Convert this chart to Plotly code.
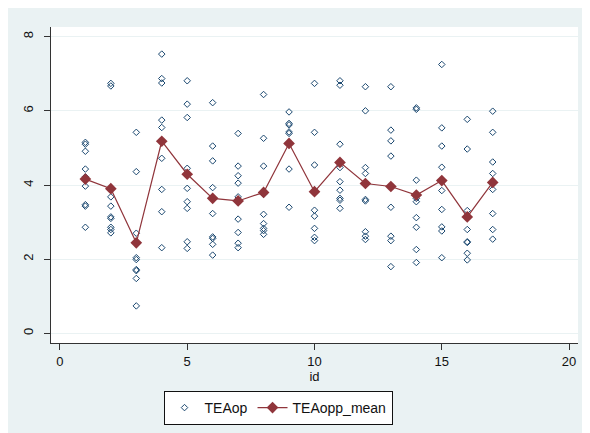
import plotly.graph_objects as go

# ---- data ----
ids = list(range(1, 18))
tea_op = {
    1: [5.15, 5.10, 4.91, 4.43, 4.22, 3.97, 3.47, 3.43, 2.86],
    2: [6.74, 6.67, 3.68, 3.43, 3.14, 3.10, 2.86, 2.80, 2.71],
    3: [5.42, 4.36, 2.70, 2.04, 1.99, 1.72, 1.69, 1.48, 0.74],
    4: [7.53, 6.87, 6.75, 5.75, 5.55, 4.72, 3.88, 3.28, 2.31],
    5: [6.81, 6.18, 5.82, 4.45, 3.91, 3.55, 3.37, 2.47, 2.29],
    6: [6.22, 5.05, 4.65, 3.93, 3.23, 2.60, 2.56, 2.40, 2.11],
    7: [5.39, 4.51, 4.25, 4.05, 3.68, 3.08, 2.72, 2.43, 2.31],
    8: [6.44, 5.26, 4.51, 3.75, 3.21, 2.96, 2.83, 2.77, 2.67],
    9: [5.97, 5.66, 5.62, 5.43, 5.39, 4.43, 3.40],
    10: [6.74, 5.42, 4.54, 3.32, 3.16, 2.83, 2.59, 2.50],
    11: [6.81, 6.69, 5.10, 4.47, 4.09, 3.86, 3.64, 3.59, 3.37],
    12: [6.65, 6.00, 4.47, 4.31, 3.61, 3.57, 2.74, 2.62, 2.53],
    13: [6.65, 5.48, 5.19, 4.78, 3.40, 2.62, 2.50, 1.80],
    14: [6.08, 6.04, 4.13, 3.64, 3.55, 3.12, 2.86, 2.26, 1.91],
    15: [7.25, 5.54, 5.05, 4.48, 3.85, 3.34, 2.87, 2.76, 2.04],
    16: [5.77, 4.97, 3.31, 2.80, 2.47, 2.45, 2.16, 1.98],
    17: [5.99, 5.42, 4.62, 4.31, 3.88, 3.23, 2.80, 2.54],
}
teaopp_mean = [4.16, 3.90, 2.44, 5.18, 4.29, 3.64, 3.57, 3.80, 5.12,
               3.82, 4.61, 4.04, 3.96, 3.73, 4.12, 3.14, 4.07]
x_ticks = [0, 5, 10, 15, 20]
y_ticks = [0, 2, 4, 6, 8]

sx, sy = [], []
for k in ids:
    for v in tea_op[k]:
        sx.append(k)
        sy.append(v)

NAVY = "#1A476F"
MAROON = "#90353B"
BG = "#EAF2F3"
FONT = "Liberation Sans, Arial, sans-serif"

fig = go.Figure()
fig.add_trace(go.Scatter(
    x=sx, y=sy, mode="markers", name="TEAop",
    marker=dict(symbol="diamond-open", size=5, color=NAVY,
                line=dict(width=1, color=NAVY)),
))
fig.add_trace(go.Scatter(
    x=ids, y=teaopp_mean, mode="lines+markers", name="TEAopp_mean",
    line=dict(color=MAROON, width=1.2),
    marker=dict(symbol="diamond", size=9, color=MAROON),
))

# the page body adds an 8px offset; figure coords = page coords - 8
W, H = 590, 433
L, R, T, B = 43, 20, 19, 98
pw, ph = W - L - R, H - T - B

def px2x(p):
    return (p - L) / pw

def py2y(p):
    return (H - B - p) / ph

fig.update_layout(
    width=W, height=H,
    margin=dict(l=L, r=R, t=T, b=B, autoexpand=False),
    paper_bgcolor=BG, plot_bgcolor="white",
    font=dict(family=FONT, color="#111111", size=12),
    showlegend=True,
    legend=dict(orientation="h", x=px2x(270), xanchor="center",
                y=py2y(383), yanchor="top",
                bgcolor="white", bordercolor="#111111", borderwidth=1,
                font=dict(size=14, family=FONT), itemwidth=30,
                tracegroupgap=0),
    xaxis=dict(range=[-0.35, 20.35], tickvals=x_ticks, ticks="outside",
               ticklen=6, tickcolor="#333333", showline=True,
               linecolor="#333333", linewidth=1, showgrid=False,
               zeroline=False, tickfont=dict(size=13),
               title=dict(text="id", font=dict(size=13), standoff=0)),
    yaxis=dict(range=[-0.26, 8.26], tickvals=y_ticks, ticks="outside",
               ticklen=6, tickcolor="#333333", showline=True,
               linecolor="#333333", linewidth=1, showgrid=True,
               gridcolor=BG, gridwidth=1, zeroline=False,
               tickangle=-90, tickfont=dict(size=13),
               ticklabelstandoff=6),
)

fig.write_html("out.html")
